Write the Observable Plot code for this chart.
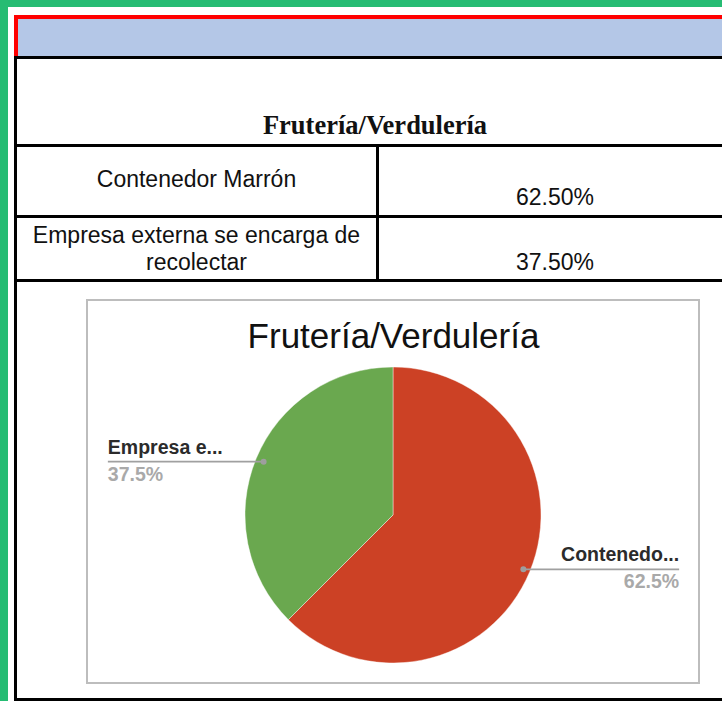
<!DOCTYPE html>
<html><head><meta charset="utf-8">
<script src="https://cdn.jsdelivr.net/npm/d3@7"></script>
<script src="https://cdn.jsdelivr.net/npm/@observablehq/plot@0.6"></script>
<style>
html,body{margin:0;padding:0;}
body{width:722px;height:701px;overflow:hidden;background:#26bc73;position:relative;font-family:Arial,"Liberation Sans",sans-serif;}
.abs{position:absolute;}
#panel{left:8px;top:7px;width:714px;height:694px;background:#fff;}
#red{left:14px;top:15px;width:708px;height:42px;border-top:4px solid #ff0000;border-left:4px solid #ff0000;background:#b4c7e7;box-sizing:border-box;}
.hl{left:14px;width:708px;height:3px;background:#000;}
.vl{width:3px;background:#000;}
.cell{font-size:23px;line-height:27px;color:#111;text-align:center;white-space:nowrap;}
#ttl{left:17px;width:716px;top:110px;font-family:"Times New Roman","Liberation Serif",serif;font-weight:bold;font-size:26.5px;line-height:30px;text-align:center;color:#111;}
#box{left:86px;top:299px;width:614px;height:385px;border:2px solid #bdbdbd;box-sizing:border-box;}
#chart{left:88px;top:301px;}
</style></head>
<body>
<div id="panel" class="abs"></div>
<div id="red" class="abs"></div>
<div class="abs hl" style="top:56px"></div>
<div class="abs hl" style="top:144px"></div>
<div class="abs hl" style="top:215px"></div>
<div class="abs hl" style="top:279px"></div>
<div class="abs hl" style="top:698px"></div>
<div class="abs vl" style="left:14px;top:56px;height:645px"></div>
<div class="abs vl" style="left:376px;top:144px;height:138px"></div>
<div id="ttl" class="abs"></div>
<div id="c0" class="abs cell" style="left:17px;width:359px;top:166px"></div>
<div id="v0" class="abs cell" style="left:379px;width:352px;top:184px"></div>
<div id="c1" class="abs cell" style="left:17px;width:359px;top:222px"></div>
<div id="v1" class="abs cell" style="left:379px;width:352px;top:249px"></div>
<div id="box" class="abs"></div>
<div id="chart" class="abs"></div>
<script>
const title = "Frutería/Verdulería";
const categories = ["Contenedor Marrón", "Empresa externa se encarga de recolectar"];
const tableLines = [["Contenedor Marrón"], ["Empresa externa se encarga de", "recolectar"]];
const values = [62.5, 37.5];
const shortLabels = ["Contenedo...", "Empresa e..."];

const colors = ["#cc4125", "#6aa84f"];

// Table
document.getElementById("ttl").textContent = title;
tableLines.forEach((lines, i) => {
  document.getElementById("c" + i).innerHTML = lines.map(l => l.replace(/&/g, "&amp;")).join("<br>");
  document.getElementById("v" + i).textContent = d3.format(".2f")(values[i]) + "%";
});

// Chart geometry (pixels inside svg)
const W = 610, H = 381, R = 148, CX = 305, CY = 214;
const pie = d3.pie().sort(null).value(d => d.value)(categories.map((c, i) => ({category: c, value: values[i], short: shortLabels[i], color: colors[i]})));
const labels = pie.map(p => {
  const mid = (p.startAngle + p.endAngle) / 2;
  const side = Math.sin(mid) >= 0 ? 1 : -1;
  return {
    px: 0.95 * Math.sin(mid), py: 0.95 * Math.cos(mid),
    ex: side * 1.93, side,
    short: p.data.short,
    pct: d3.format(".1f")(p.data.value) + "%"
  };
});
const leftLabels = labels.filter(d => d.side < 0);
const rightLabels = labels.filter(d => d.side > 0);

function pieMark(index, scales) {
  const x = scales.x, y = scales.y;
  const cx = x(0), cy = y(0), r = x(1) - x(0);
  const arc = d3.arc().innerRadius(0).outerRadius(r);
  const g = d3.create("svg:g").attr("transform", `translate(${cx},${cy})`);
  g.selectAll("path").data(pie).join("path")
    .attr("d", arc).attr("fill", d => d.data.color)
    .attr("stroke", "#fff").attr("stroke-width", 0.7).attr("stroke-opacity", 0.6);
  return g.node();
}

const labelMarks = (data, anchor) => [
  Plot.text(data, {x: "ex", y: "py", text: "short", textAnchor: anchor, lineAnchor: "bottom", dy: -8, fontSize: 19.5, fontWeight: "bold", fill: "#2b2b2b", style: "letter-spacing:1.3px"}),
  Plot.text(data, {x: "ex", y: "py", text: "pct", textAnchor: anchor, lineAnchor: "top", dy: 5, fontSize: 19.5, fontWeight: "bold", fill: "#a9a9a9", style: "letter-spacing:0.5px"})
];

const chart = Plot.plot({
  width: W, height: H, margin: 0,
  style: {fontFamily: "Arial, 'Liberation Sans', sans-serif", background: "transparent"},
  x: {domain: [-CX / R, (W - CX) / R], axis: null},
  y: {domain: [-(H - CY) / R, CY / R], axis: null},
  marks: [
    pieMark,
    Plot.link(labels, {x1: "px", y1: "py", x2: "ex", y2: "py", stroke: "#a0a0a0", strokeWidth: 1.8}),
    Plot.dot(labels, {x: "px", y: "py", r: 3, fill: "#9e9e9e"}),
    ...labelMarks(leftLabels, "start"),
    ...labelMarks(rightLabels, "end"),
    Plot.text([title], {frameAnchor: "top", lineAnchor: "bottom", dy: 46, fontSize: 35, fill: "#111", text: d => d})
  ]
});
document.getElementById("chart").appendChild(chart);
</script>
</body></html>
